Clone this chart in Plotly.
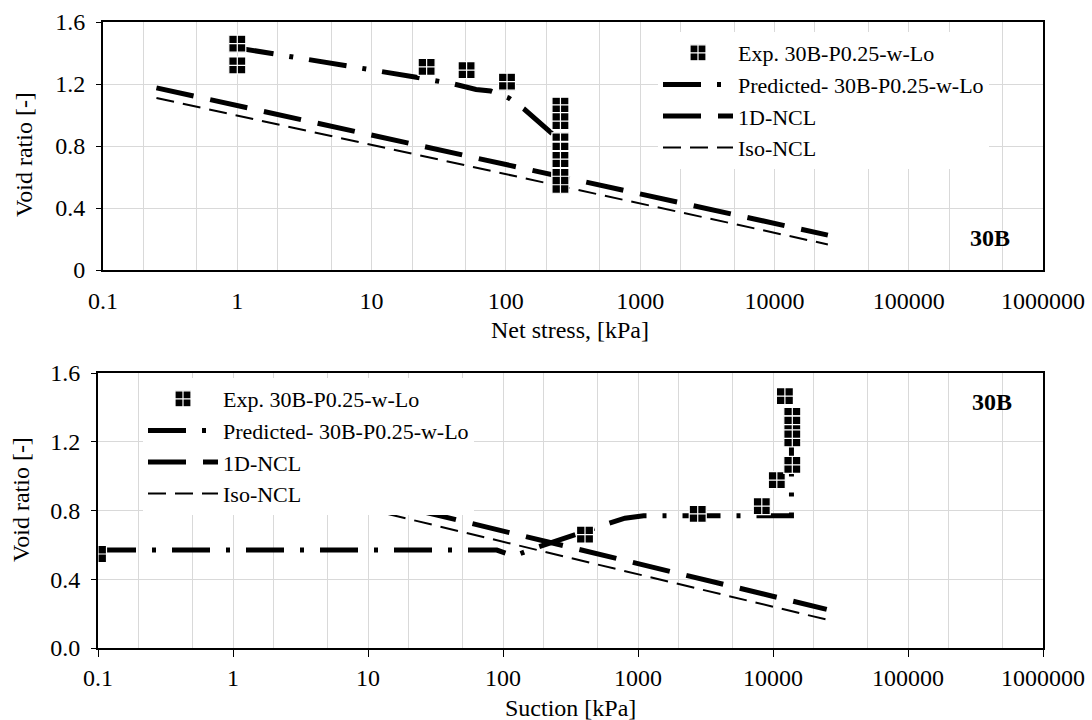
import plotly.graph_objects as go

# ---------------- data ----------------
# Top panel: void ratio vs net stress
exp_net_stress = [1, 1, 25.7, 51, 102, 255, 255, 255, 255, 255, 255, 255, 255, 255]
exp_void_top = [1.46, 1.32, 1.31, 1.29, 1.215, 1.06, 1.01, 0.96, 0.83, 0.77, 0.71, 0.66, 0.60, 0.55]

pred_net_stress = [1.0, 1.05, 21, 30, 41, 60, 77, 105, 136, 228, 255, 255]
pred_void_top = [1.45, 1.43, 1.245, 1.22, 1.20, 1.165, 1.155, 1.11, 1.04, 0.87, 0.84, 0.60]

# Bottom panel: void ratio vs suction
exp_suction = [0.1, 405, 2770, 8260, 10670, 13900, 12250, 13900, 13900, 13900]
exp_void_bot = [0.547, 0.66, 0.78, 0.826, 0.977, 1.065, 1.466, 1.35, 1.30, 1.22]

pred_suction = [0.1, 90, 120, 170, 580, 800, 1100, 2100, 8000, 13700, 13700, 12250]
pred_void_bot = [0.57, 0.57, 0.535, 0.58, 0.72, 0.755, 0.77, 0.77, 0.77, 0.77, 1.40, 1.466]

# Normal compression lines (same in both panels)
ncl_stress = [0.25, 25000]
ncl_1d_void = [1.175, 0.225]
ncl_iso_void = [1.11, 0.165]

x_tickvals = [0.1, 1, 10, 100, 1000, 10000, 100000, 1000000]
x_ticktext = ["0.1", "1", "10", "100", "1000", "10000", "100000", "1000000"]
y_tickvals = [0, 0.4, 0.8, 1.2, 1.6]
y_ticktext_top = ["0", "0.4", "0.8", "1.2", "1.6"]
y_ticktext_bot = ["0.0", "0.4", "0.8", "1.2", "1.6"]

names = ["Exp. 30B-P0.25-w-Lo", "Predicted- 30B-P0.25-w-Lo", "1D-NCL", "Iso-NCL"]

FONT = "Liberation Serif"
W, H = 1092, 720
TICK_SIZE = 24
LEG_SIZE = 22
PAD = "\u00a0"

fig = go.Figure()

def add_panel(xa, ya, leg, xs_exp, ys_exp, xs_pred, ys_pred):
    fig.add_trace(go.Scatter(x=ncl_stress, y=ncl_1d_void, mode="lines", name=names[2],
                             line=dict(color="black", width=5, dash="38px,17px"),
                             xaxis=xa, yaxis=ya, legend=leg, legendrank=3))
    fig.add_trace(go.Scatter(x=ncl_stress, y=ncl_iso_void, mode="lines", name=names[3],
                             line=dict(color="black", width=2, dash="18px,9px"),
                             xaxis=xa, yaxis=ya, legend=leg, legendrank=4))
    fig.add_trace(go.Scatter(x=xs_pred, y=ys_pred, mode="lines", name=names[1],
                             line=dict(color="black", width=5, dash="38px,16px,4px,16px"),
                             xaxis=xa, yaxis=ya, legend=leg, legendrank=2))
    fig.add_trace(go.Scatter(x=xs_exp, y=ys_exp, mode="markers", name=names[0],
                             marker=dict(symbol="square-cross", size=17, color="black",
                                         line=dict(color="white", width=1.2)),
                             xaxis=xa, yaxis=ya, legend=leg, legendrank=1))

add_panel("x", "y", "legend", exp_net_stress, exp_void_top, pred_net_stress, pred_void_top)
add_panel("x2", "y2", "legend2", exp_suction, exp_void_bot, pred_suction, pred_void_bot)

grid = "#d9d9d9"
common_x = dict(type="log", range=[-1, 6], tickvals=x_tickvals, ticktext=x_ticktext,
                showgrid=True, gridcolor=grid, gridwidth=1, automargin=False,
                minor=dict(showgrid=True, gridcolor=grid, gridwidth=1, ticks=""),
                showline=True, linecolor="black", linewidth=2, mirror=True,
                tickfont=dict(family=FONT, size=TICK_SIZE, color="black"), zeroline=False)
common_y = dict(range=[0, 1.6], tickvals=y_tickvals, showgrid=True, gridcolor=grid,
                showline=True, linecolor="black", linewidth=2, mirror=True,
                ticks="outside", ticklen=5, tickcolor="black", automargin=False,
                tickfont=dict(family=FONT, size=TICK_SIZE, color="black"), zeroline=False)

fig.update_layout(
    template="none",
    width=W, height=H,
    margin=dict(l=0, r=0, t=0, b=0),
    paper_bgcolor="white", plot_bgcolor="white",
    font=dict(family=FONT, size=TICK_SIZE, color="black"),
    xaxis=dict(common_x, domain=[103 / W, 1043 / W], anchor="y", ticks="",
               ticklabelstandoff=8),
    yaxis=dict(common_y, domain=[1 - 270 / H, 1 - 22 / H], anchor="x",
               ticktext=[t + PAD for t in y_ticktext_top]),
    xaxis2=dict(common_x, domain=[98 / W, 1043 / W], anchor="y2", ticks="outside",
                ticklen=7, tickcolor="black"),
    yaxis2=dict(common_y, domain=[1 - 648 / H, 1 - 373 / H], anchor="x2",
                ticktext=[t + PAD for t in y_ticktext_bot]),
    legend=dict(x=658 / W, y=1 - 32 / H, xanchor="left", yanchor="top",
                bgcolor="white", font=dict(family=FONT, size=LEG_SIZE, color="black"),
                itemwidth=70, tracegroupgap=0),
    legend2=dict(x=143 / W, y=1 - 378 / H, xanchor="left", yanchor="top",
                 bgcolor="white", font=dict(family=FONT, size=LEG_SIZE, color="black"),
                 itemwidth=70, tracegroupgap=0),
    showlegend=True,
)

annots = [
    dict(text="Void ratio [-]", x=24 / W, y=1 - 155 / H, textangle=-90),
    dict(text="Void ratio [-]", x=21 / W, y=1 - 500 / H, textangle=-90),
    dict(text="Net stress, [kPa]", x=570 / W, y=1 - 330 / H),
    dict(text="Suction [kPa]", x=570 / W, y=1 - 708 / H),
    dict(text="<b>30B</b>", x=990 / W, y=1 - 238 / H),
    dict(text="<b>30B</b>", x=992 / W, y=1 - 402 / H),
]
for a in annots:
    fig.add_annotation(xref="paper", yref="paper", showarrow=False,
                       xanchor="center", yanchor="middle",
                       font=dict(family=FONT, size=TICK_SIZE, color="black"), **a)

fig.write_html("out.html")
